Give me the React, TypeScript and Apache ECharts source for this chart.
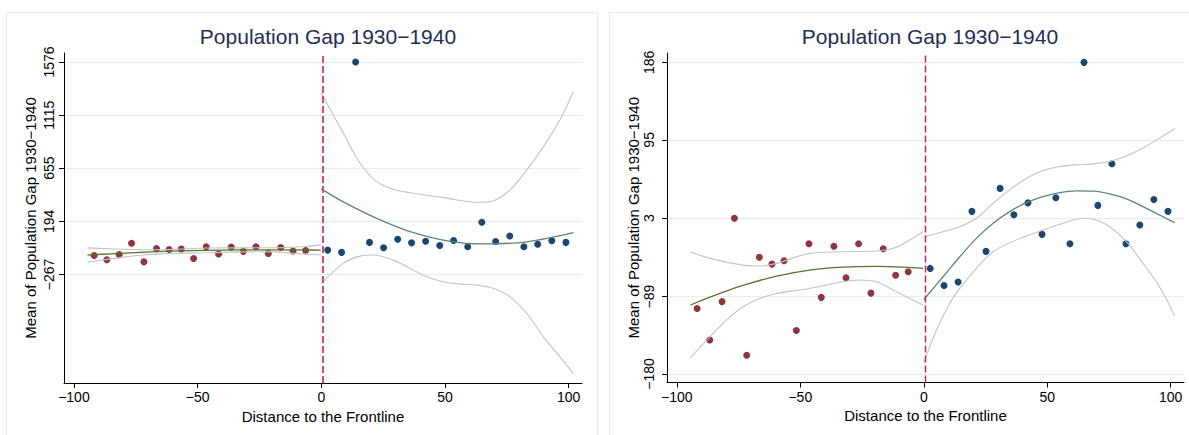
import React, { useEffect, useRef } from 'react';
import * as echarts from 'echarts';

const titleText = 'Population Gap 1930−1940';
const xName = 'Distance to the Frontline';
const yName = 'Mean of Population Gap 1930−1940';

const xTicks = [-100, -50, 0, 50, 100];
const yTicksLeft = [-267, 194, 655, 1115, 1576];
const yTicksRight = [-180, -89, 3, 95, 186];

// binned means, left of the frontline
const redX = [-91.8, -86.7, -81.7, -76.7, -71.7, -66.6, -61.5, -56.6, -51.6, -46.5, -41.5, -36.4, -31.5, -26.4, -21.4, -16.4, -11.4, -6.3];
const redY = [-103, -140, -95, 3, -158, -43, -51, -47, -129, -27, -90, -30, -67, -27, -85, -33, -64, -60];

// binned means, right of the frontline
const blueX = [2.6, 8.2, 13.9, 19.5, 25.2, 30.9, 36.5, 42.2, 47.9, 53.5, 59.2, 64.9, 70.5, 76.2, 81.9, 87.5, 93.2, 98.9];
const blueYLeftPanel = [-56, -76, 1576, 11, -36, 38, 7, 21, -16, 27, -27, 186, 18, 67, -27, -5, 25, 11];
const blueYRightPanel = [-56, -76, -72, 11, -36, 38, 7, 21, -16, 27, -27, 186, 18, 67, -27, -5, 25, 11];

// fitted line and CI, left side (same in both panels)
const fitLX = [-94.5, -85, -73.2, -59.6, -46.2, -32.7, -19.2, -8, -0.3];
const fitLY = [-99, -88, -76, -65, -58, -54.5, -53.5, -54.5, -56];
const ciLUpX = [-94.5, -86.6, -73.2, -66.4, -59.6, -46.2, -32.7, -19.2, -12.4, -5.7, -0.3];
const ciLUpY = [-36.4, -44.2, -52.1, -53.2, -50.1, -38.3, -36.4, -35.6, -32.4, -22.7, -12.9];
const ciLLoX = [-94.5, -86.6, -79.9, -73.2, -66.4, -59.6, -46.2, -32.7, -25.9, -19.2, -12.4, -5.7, -0.3];
const ciLLoY = [-160.7, -136.4, -116.8, -101.1, -91.3, -85.4, -79.5, -71.7, -69.7, -71.7, -81.5, -91.3, -99.1];

// fitted line and CI, right side, left panel (with outlier)
const fitR1X = [0, 8.9, 22.4, 35.9, 52.1, 65.5, 83.1, 101.9];
const fitR1Y = [475, 362, 219, 105, 20, -2, 16, 95];
const ciR1UpX = [0, 8.9, 15.7, 22.4, 29.1, 35.9, 49.3, 62.9, 69.6, 76.3, 83.1, 89.8, 96.5, 101.9];
const ciR1UpY = [1306, 959, 698, 538, 472, 442, 399, 359, 373, 466, 640, 842, 1074, 1320];
const ciR1LoX = [0, 8.9, 15.7, 21, 29.1, 35.9, 42.6, 49.3, 56.1, 62.9, 69.6, 76.3, 83.1, 89.8, 96.5, 101.9];
const ciR1LoY = [-345, -171, -108, -99, -143, -215, -288, -331, -351, -360, -389, -462, -606, -809, -983, -1128];

// fitted line and CI, right side, right panel
const fitR2X = [0, 7.8, 14.6, 21.3, 28.1, 34.8, 41.6, 48.3, 55.1, 61.8, 68.6, 75.3, 82.1, 88.8, 95.5, 101.6];
const fitR2Y = [-92.5, -65.8, -42.3, -20.7, -3, 10.7, 21.2, 28.3, 33, 35, 34.7, 31.5, 25.6, 16.5, 6.8, -2.3];
const ciR2UpX = [0, 7.8, 14.6, 21.3, 28.1, 34.8, 41.6, 48.3, 55.1, 61.8, 68.6, 75.3, 82.1, 88.8, 95.5, 101.6];
const ciR2UpY = [-18.8, -12.9, -7, 2.9, 20.5, 36.2, 50, 58.9, 63.6, 65.6, 66.8, 69.5, 76.2, 85.3, 97, 108];
const ciR2LoX = [0, 5.1, 10.5, 14.6, 21.3, 28.1, 34.8, 41.6, 48.3, 55.1, 61.8, 65.9, 69.9, 75.3, 82.1, 88.8, 95.5, 101.6];
const ciR2LoY = [-167, -128.6, -97.1, -79.5, -56, -36.4, -25.8, -18, -10.9, -4.2, 1.7, 2.9, 0.9, -7, -24.6, -50.1, -77.6, -111.7];

const cutoff = 0.6;

const FONT = "'Liberation Sans', Arial, Helvetica, sans-serif";
const NAVY = '#1a476f';
const MAROON = '#90353b';
const GREEN = '#55752f';
const TEAL = '#5e8579';
const CIGRAY = '#c3c3c3';
const GRID = '#e6eff0';

const pairs = (xs: number[], ys: number[]) => xs.map((x, i) => [x, ys[i]]);
const fmt = (v: number) => String(Math.round(v)).replace('-', '\u2212');

function buildXAxis(gridIndex: number) {
  return {
    type: 'value',
    gridIndex,
    min: -104,
    max: 105.4,
    name: xName,
    nameLocation: 'middle',
    nameGap: 22,
    nameTextStyle: { color: '#000', fontSize: 15, fontFamily: FONT, verticalAlign: 'top' },
    axisLine: { show: true, onZero: false, lineStyle: { color: '#000', width: 1 } },
    axisTick: { show: true, length: 5, customValues: xTicks, lineStyle: { color: '#000' } },
    axisLabel: { customValues: xTicks, formatter: fmt, color: '#000', fontSize: 14, fontFamily: FONT, margin: 7 },
    splitLine: { show: false },
  };
}

function buildYAxis(gridIndex: number, min: number, max: number, ticks: number[], margin: number) {
  return {
    type: 'value',
    gridIndex,
    min,
    max,
    name: yName,
    nameLocation: 'middle',
    nameGap: 26,
    nameTextStyle: { color: '#000', fontSize: 15, fontFamily: FONT },
    axisLine: { show: true, onZero: false, lineStyle: { color: '#000', width: 1 } },
    axisTick: { show: true, length: 5, customValues: ticks, lineStyle: { color: '#000' } },
    axisLabel: { customValues: ticks, formatter: fmt, rotate: 90, color: '#000', fontSize: 14, fontFamily: FONT, margin },
    splitLine: { show: true, lineStyle: { color: GRID, width: 1.2 } },
  };
}

function lineSeries(idx: number, xs: number[], ys: number[], color: string, width: number, z: number) {
  return {
    type: 'line',
    xAxisIndex: idx,
    yAxisIndex: idx,
    data: pairs(xs, ys),
    showSymbol: false,
    smooth: 0.35,
    lineStyle: { color, width, opacity: 1 },
    z,
    silent: true,
  };
}

function panelSeries(idx: number, blueY: number[], fits: any, dashColor: string, dashWidth: number) {
  return [
    {
      type: 'scatter',
      xAxisIndex: idx,
      yAxisIndex: idx,
      data: pairs(redX, redY),
      symbolSize: 7,
      itemStyle: { color: MAROON, opacity: 1 },
      z: 2,
      markLine: {
        silent: true,
        symbol: ['none', 'none'],
        label: { show: false },
        lineStyle: { color: dashColor, width: dashWidth, type: [7, 3], opacity: 1 },
        data: [{ xAxis: cutoff }],
      },
    },
    {
      type: 'scatter',
      xAxisIndex: idx,
      yAxisIndex: idx,
      data: pairs(blueX, blueY),
      symbolSize: 7,
      itemStyle: { color: NAVY, opacity: 1 },
      z: 2,
    },
    lineSeries(idx, ciLUpX, ciLUpY, CIGRAY, 1.1, 3),
    lineSeries(idx, ciLLoX, ciLLoY, CIGRAY, 1.1, 3),
    lineSeries(idx, fitLX, fitLY, GREEN, 1.3, 4),
    lineSeries(idx, fits.upX, fits.upY, CIGRAY, 1.1, 3),
    lineSeries(idx, fits.loX, fits.loY, CIGRAY, 1.1, 3),
    lineSeries(idx, fits.fX, fits.fY, TEAL, 1.3, 4),
  ];
}

export default function App() {
  const ref = useRef<HTMLDivElement>(null);
  useEffect(() => {
    document.body.style.margin = '0';
    const chart = echarts.init(ref.current as HTMLDivElement, null, { renderer: 'svg' });
    const option: any = {
      animation: false,
      backgroundColor: '#ffffff',
      textStyle: { fontFamily: FONT },
      graphic: [
        { type: 'rect', z: -10, shape: { x: 6.5, y: 12.5, width: 591, height: 440 }, style: { fill: '#fff', stroke: '#e4eced', lineWidth: 1 }, silent: true },
        { type: 'rect', z: -10, shape: { x: 609.5, y: 12.5, width: 600, height: 440 }, style: { fill: '#fff', stroke: '#e4eced', lineWidth: 1 }, silent: true },
      ],
      title: [
        { text: titleText, left: 323, top: 21, textAlign: 'center', textStyle: { color: '#1f2e55', fontSize: 21, fontWeight: 'normal', fontFamily: FONT } },
        { text: titleText, left: 925, top: 21, textAlign: 'center', textStyle: { color: '#1f2e55', fontSize: 21, fontWeight: 'normal', fontFamily: FONT } },
      ],
      grid: [
        { left: 64, top: 53, width: 518, height: 330 },
        { left: 667, top: 53, width: 517, height: 329.5 },
      ],
      xAxis: [buildXAxis(0), buildXAxis(1)],
      yAxis: [
        buildYAxis(0, -1209, 1654, yTicksLeft, 8),
        buildYAxis(1, -190, 197, yTicksRight, 11),
      ],
      series: [
        ...panelSeries(0, blueYLeftPanel, { fX: fitR1X, fY: fitR1Y, upX: ciR1UpX, upY: ciR1UpY, loX: ciR1LoX, loY: ciR1LoY }, '#d8487a', 2),
        ...panelSeries(1, blueYRightPanel, { fX: fitR2X, fY: fitR2Y, upX: ciR2UpX, upY: ciR2UpY, loX: ciR2LoX, loY: ciR2LoY }, '#c9214a', 1.4),
      ],
    };
    chart.setOption(option);
    return () => chart.dispose();
  }, []);
  return <div ref={ref} style={{ width: 1189, height: 435 }} />;
}
